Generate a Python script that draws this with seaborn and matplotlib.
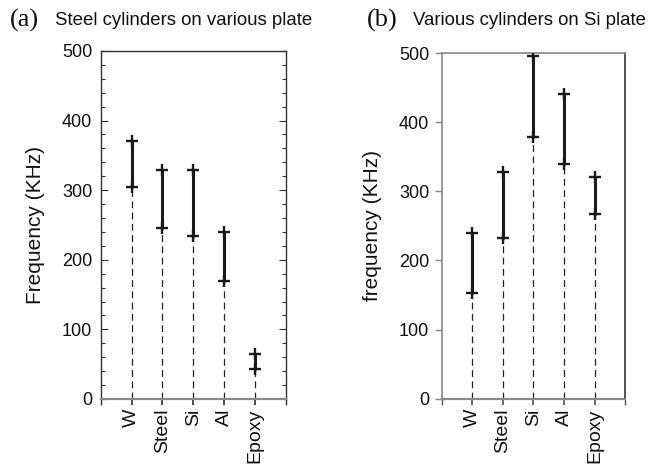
import matplotlib
matplotlib.use("Agg")
import matplotlib.pyplot as plt
import seaborn as sns
import numpy as np
import pandas as pd
from matplotlib.ticker import MultipleLocator

# ---- data ----
categories = ["W", "Steel", "Si", "Al", "Epoxy"]
# (a) Steel cylinders on various plate
a_low = [305, 245, 234, 170, 43]
a_high = [370, 329, 329, 240, 65]
# (b) Various cylinders on Si plate
b_low = [153, 232, 379, 340, 267]
b_high = [239, 328, 495, 440, 321]
y_ticks = [0, 100, 200, 300, 400, 500]

sns.set_theme(style="white")
plt.rcParams["font.family"] = ["Liberation Sans", "DejaVu Sans"]
plt.rcParams["text.color"] = "#111111"
plt.rcParams["xtick.labelcolor"] = "#111111"
plt.rcParams["ytick.labelcolor"] = "#111111"
plt.rcParams["axes.labelcolor"] = "#111111"

fig = plt.figure(figsize=(6.65, 4.72), dpi=100)
ax_a = fig.add_axes([0.1514, 0.1547, 0.2787, 0.7373])
ax_b = fig.add_axes([0.6642, 0.1553, 0.2761, 0.7324])


def draw(ax, low, high):
    pos = np.arange(1, len(categories) + 1)
    df = pd.DataFrame({
        "pos": np.concatenate([pos, pos]),
        "val": np.concatenate([low, high]),
        "cat": categories + categories,
    })
    # dashed guide from 0 to the low end
    ax.vlines(pos, 0, low, colors="#222222", linestyles=(0, (5.5, 3.5)), lw=0.9, zorder=2)
    sns.lineplot(data=df, x="pos", y="val", units="cat", estimator=None,
                 color="#1a1a1a", lw=2.2, sort=False, ax=ax, zorder=3, legend=False)
    sns.scatterplot(data=df, x="pos", y="val", marker="+", s=75, color="#1a1a1a",
                    linewidth=1.7, ax=ax, zorder=4, legend=False)
    ax.set_xlim(0, 6)
    ax.set_ylim(0, 500)
    ax.set_xticks(pos)
    ax.set_xticks([0, 6], minor=True)
    ax.set_xticklabels(categories, rotation=90, fontsize=14)
    ax.set_yticks(y_ticks)
    ax.set_yticklabels([str(t) for t in y_ticks], fontsize=13)
    ax.set_xlabel("")


draw(ax_a, a_low, a_high)
draw(ax_b, b_low, b_high)

# panel (a) styling
for sp in ax_a.spines.values():
    sp.set_color("#333333")
    sp.set_linewidth(1.0)
ax_a.spines["bottom"].set_color("#888888")
ax_a.spines["bottom"].set_linewidth(1.6)
ax_a.yaxis.set_minor_locator(MultipleLocator(20))
ax_a.tick_params(axis="y", which="both", direction="in", left=True, right=True,
                 color="#333333", width=0.8)
ax_a.tick_params(axis="y", which="major", length=5, pad=6)
ax_a.tick_params(axis="y", which="minor", length=3)
ax_a.tick_params(axis="x", which="both", direction="out", bottom=True, length=4,
                 color="#333333", pad=3)
ax_a.set_ylabel("Frequency (KHz)", fontsize=15, labelpad=12)

# panel (b) styling
for name, sp in ax_b.spines.items():
    sp.set_color("#888888")
    sp.set_linewidth(1.2)
ax_b.spines["right"].set_color("#333333")
ax_b.spines["bottom"].set_linewidth(1.6)
ax_b.tick_params(axis="y", which="major", direction="out", left=True, length=5,
                 color="#888888", width=1.0, pad=4)
ax_b.tick_params(axis="x", which="both", direction="out", bottom=True, length=4,
                 color="#555555", pad=3)
ax_b.set_ylabel("frequency (KHz)", fontsize=15, labelpad=12)

# titles
serif = ["Liberation Serif", "DejaVu Serif"]
fig.text(0.015, 0.957, "(a)", family=serif, fontsize=19, va="center", ha="left")
fig.text(0.083, 0.957, "Steel cylinders on various plate", fontsize=13.4,
         va="center", ha="left")
fig.text(0.551, 0.957, "(b)", family=serif, fontsize=19, va="center", ha="left")
fig.text(0.621, 0.957, "Various cylinders on Si plate", fontsize=13.4,
         va="center", ha="left")

fig.savefig("out.png", dpi=100)
